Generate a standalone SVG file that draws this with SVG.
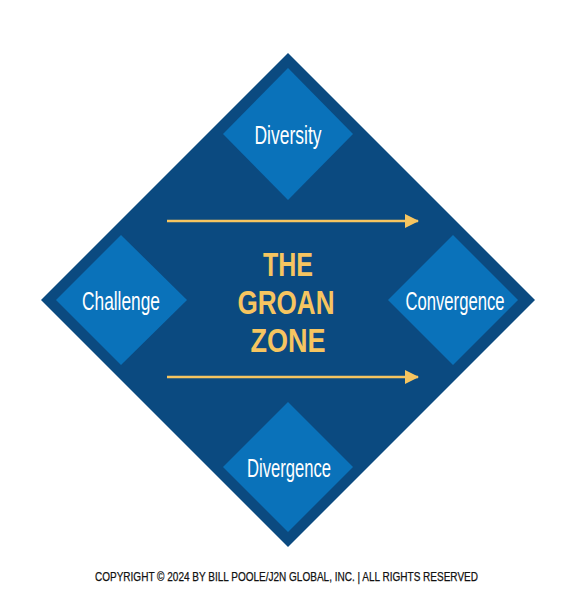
<svg xmlns="http://www.w3.org/2000/svg" width="576" height="601" viewBox="0 0 576 601">
  <defs>
    <style>
      .big { fill: #0b4a80; }
      .small { fill: #0a72ba; }
      .lbl { fill: #ffffff; font-family: "Liberation Sans", "DejaVu Sans", sans-serif; font-size: 26px; text-anchor: middle; }
      .title { fill: #f6c560; font-family: "Liberation Sans", "DejaVu Sans", sans-serif; font-weight: bold; font-size: 33px; text-anchor: middle; }
      .arrow { stroke: #f6c560; stroke-width: 2.5; fill: none; }
      .copy { fill: #111111; font-family: "Liberation Sans", "DejaVu Sans", sans-serif; font-size: 12.5px; stroke: #111111; stroke-width: 0.25; }
    </style>
    <marker id="ah" markerWidth="14" markerHeight="14" refX="13" refY="7" orient="auto" markerUnits="userSpaceOnUse">
      <path d="M0,0 L14,7 L0,14 Z" fill="#f6c560"/>
    </marker>
  </defs>
  <rect width="576" height="601" fill="#ffffff"/>
  <g id="groan-zone">
    <polygon class="big" points="288,53 535,300 288,547 41,300"/>
    <text class="title" x="288" y="276" textLength="50" lengthAdjust="spacingAndGlyphs">THE</text>
    <text class="title" x="286" y="314" textLength="97" lengthAdjust="spacingAndGlyphs">GROAN</text>
    <text class="title" x="288" y="352" textLength="75" lengthAdjust="spacingAndGlyphs">ZONE</text>
  </g>
  <g id="diversity">
    <polygon class="small" points="288,68 353,134 288,200 223,134"/>
    <text class="lbl" x="288" y="144" textLength="67" lengthAdjust="spacingAndGlyphs">Diversity</text>
  </g>
  <g id="challenge">
    <polygon class="small" points="121,235 187,300 121,365 56,300"/>
    <text class="lbl" x="121" y="310" textLength="78" lengthAdjust="spacingAndGlyphs">Challenge</text>
  </g>
  <g id="convergence">
    <polygon class="small" points="453,235 518,300 453,365 388,300"/>
    <text class="lbl" x="455" y="310" textLength="99" lengthAdjust="spacingAndGlyphs">Convergence</text>
  </g>
  <g id="divergence">
    <polygon class="small" points="288,402 353,467 288,532 223,467"/>
    <text class="lbl" x="289" y="477" textLength="84" lengthAdjust="spacingAndGlyphs">Divergence</text>
  </g>
  <g id="connectors">
    <line class="arrow" x1="167" y1="221" x2="418" y2="221" marker-end="url(#ah)"/>
    <line class="arrow" x1="167" y1="377" x2="418" y2="377" marker-end="url(#ah)"/>
  </g>
  <text class="copy" x="95" y="581" textLength="383" lengthAdjust="spacingAndGlyphs">COPYRIGHT © 2024 BY BILL POOLE/J2N GLOBAL, INC. | ALL RIGHTS RESERVED</text>
</svg>
